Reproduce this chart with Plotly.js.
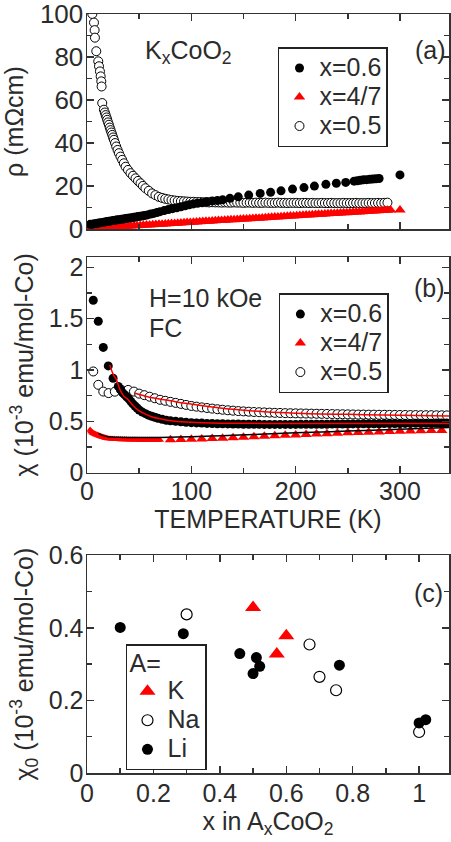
<!DOCTYPE html>
<html>
<head>
<meta charset="utf-8">
<script src="https://cdn.plot.ly/plotly-3.0.1.min.js"></script>
<style>html,body{margin:0;padding:0;background:#fff;}#chart{width:451px;height:842px;}</style>
</head>
<body>
<div id="chart"></div>
<script>
// ---------- Panel (a): resistivity of KxCoO2 ----------
const T_a_x06 = [3,5,7,9,11,13,15,17,19,21,23,25,27,29,31,33,35,37,39,41,43,45,47,49,51,53,55,58,61,64,67,70,74,78,82,86,90,94,98,102,106,110,115,120,125,130,137,145,155,166,176,186,197,208,218,229,239,248,256,259,262,265,268,271,274,277,280,300];
const rho_x06 = [2.2,2.3,2.5,2.6,2.8,3.0,3.1,3.3,3.5,3.6,3.8,4.0,4.1,4.3,4.4,4.6,4.7,4.9,5.0,5.2,5.3,5.5,5.6,5.8,6.0,6.1,6.3,6.6,7.0,7.3,7.7,8.1,8.6,9.1,9.5,9.9,10.4,10.8,11.3,11.7,12.0,12.3,12.7,13.1,13.3,13.6,14.3,15.0,15.8,16.6,17.1,17.8,18.6,19.3,20.0,20.8,21.3,21.7,22.3,22.5,22.7,22.9,23.0,23.2,23.3,23.4,23.5,25.2];

const T_a_x47 = [3,5,7,9,11,13,15,17,19,21,24,27,30,33,36,39,42,45,48,51,54,57,60,63,66,69,72,75,78,81,84,87,90,93,96,99,102,105,108,111,114,117,120,123,126,129,132,135,138,141,144,147,150,153,156,159,162,165,168,171,174,177,180,183,186,189,192,195,198,201,204,207,210,213,216,219,222,225,228,231,234,237,240,243,246,249,252,255,258,261,264,267,270,273,276,279,282,285,288,291,300];
const rho_x47 = [0.3,0.35,0.4,0.45,0.5,0.55,0.6,0.65,0.75,0.8,0.85,0.95,1.05,1.15,1.25,1.3,1.4,1.5,1.6,1.7,1.75,1.85,1.95,2.05,2.1,2.2,2.3,2.4,2.5,2.6,2.65,2.75,2.85,2.95,3.05,3.1,3.2,3.3,3.4,3.5,3.6,3.65,3.75,3.85,3.95,4.05,4.1,4.2,4.3,4.4,4.5,4.6,4.65,4.75,4.85,4.95,5.05,5.1,5.2,5.3,5.4,5.5,5.6,5.65,5.75,5.85,5.95,6.05,6.1,6.2,6.3,6.4,6.5,6.55,6.65,6.75,6.85,6.95,7.05,7.1,7.2,7.3,7.4,7.5,7.55,7.65,7.75,7.85,7.95,8.0,8.1,8.2,8.3,8.4,8.45,8.55,8.65,8.7,8.8,8.85,8.9];

const T_a_x05 = [5.1,6.7,7.3,7.6,8.9,10.8,11.5,12.4,13.1,13.7,14.0,14.6,16.2,17.1,17.9,18.7,19.4,20.2,21.0,21.8,22.6,23.4,24.2,25.0,25.8,26.9,28.0,29.3,30.6,32.1,33.7,35.3,37.0,39.3,41.7,44.1,46.5,48.9,51.3,53.6,56.0,59.2,62.4,65.6,68.8,72,75,78,81,84,87,90,93,96,99,102,105,108,111,
  114,117,120,123,126,129,132,135,138,141,144,147,150,153,156,159,162,165,168,171,174,177,180,183,186,189,192,195,198,201,204,207,210,213,216,219,222,225,228,231,234,237,240,243,246,249,252,255,258,261,264,267,270,273,276,279,282,285,288];
const rho_x05 = [100,96,92.5,89,82.7,78,75.7,73.3,71,68.7,66.3,58.6,55.5,54.2,53,51.9,50.8,49.6,48.5,47.2,46,44.9,43.8,42.6,41.5,40,38.4,36.8,35.3,33.7,32.2,30.6,29,27.5,26,24.8,23.6,22.4,21.3,20.1,19,17.8,16.6,15.8,15,14.5,14.1,13.8,13.5,13.3,13.1,13.0,12.9,12.8,12.7,12.7,12.6,12.6,12.5,
  12.5,12.4,12.5,12.4,12.4,12.3,12.4,12.3,12.3,12.4,12.3,12.3,12.2,12.3,12.3,12.2,12.3,12.2,12.2,12.3,12.2,12.2,12.2,12.3,12.2,12.2,12.1,12.2,12.2,12.2,12.1,12.2,12.2,12.1,12.2,12.1,12.1,12.2,12.1,12.1,12.2,12.1,12.1,12.1,12.2,12.1,12.1,12.1,12.2,12.1,12.1,12.1,12.2,12.1,12.1,12.2,12.1,12.2,12.3];

// ---------- Panel (b): susceptibility, H=10 kOe FC ----------
const T_b_x06 = [6,10.8,15.6,20.4,25,30,32,34,36,38,40,42,44,46,48,50,53,56,59,62,65,68,72,76,80,85,90,95,100,105,110,115,120,125,130,135,140,145,150,155,160,165,170,175,180,185,190,195,200,205,210,215,220,225,230,235,240,245,250,255,260,265,270,275,280,285,290,295,300,305,310,315,320,325,330,335,340,345];
const chi_x06 = [1.68,1.475,1.22,1.04,0.92,0.84,0.81,0.78,0.76,0.74,0.72,0.695,0.67,0.65,0.63,0.61,0.59,0.575,0.56,0.55,0.54,0.53,0.52,0.51,0.505,0.5,0.495,0.49,0.487,0.485,0.483,0.48,0.478,0.477,0.476,0.475,0.474,0.473,0.472,0.472,0.471,0.471,0.47,0.47,0.47,0.47,0.47,0.47,0.47,0.471,0.471,0.471,0.472,0.472,0.472,0.473,0.473,0.474,0.474,0.475,0.475,0.476,0.476,0.477,0.477,0.478,0.478,0.479,0.479,0.48,0.48,0.481,0.481,0.482,0.482,0.483,0.483,0.484];

const T_b_x47_low = [3,4,5,6,7,8,9,10,11,12,13,14,15,16,17,18,19,20,22,24,26,28,30,32,34,36,38,40,42,44,46,48,50,52,54,56,58,60,62,64,66,68,70];
const chi_x47_low = [0.416,0.40,0.392,0.385,0.38,0.375,0.37,0.366,0.362,0.358,0.354,0.35,0.347,0.344,0.341,0.338,0.336,0.334,0.331,0.329,0.327,0.326,0.325,0.324,0.323,0.322,0.322,0.321,0.321,0.32,0.32,0.32,0.319,0.319,0.319,0.318,0.318,0.318,0.318,0.318,0.318,0.318,0.318];
const T_b_x47_high = [80,90,100,110,120,130,140,150,160,170,180,190,200,210,220,230,240,250,260,270,280,290,300,310,320,330,340];
const chi_x47_high = [0.320,0.322,0.325,0.328,0.332,0.336,0.340,0.345,0.350,0.355,0.360,0.364,0.368,0.372,0.376,0.380,0.384,0.388,0.391,0.394,0.397,0.400,0.403,0.406,0.408,0.410,0.412];

const T_b_x05 = [6,10.8,15.6,20.7,26.7,33,39.5,45,50,55,60,65,70,75,80,85,90,95,100,105,110,115,120,125,130,135,140,145,150,155,160,165,170,175,180,185,190,195,200,205,210,215,220,225,230,235,240,245,250,255,260,265,270,275,280,285,290,295,300,305,310,315,320,325,330,335,340,345];
const chi_x05 = [0.986,0.856,0.79,0.775,0.789,0.806,0.806,0.79,0.77,0.755,0.74,0.725,0.71,0.70,0.69,0.68,0.67,0.66,0.65,0.643,0.636,0.63,0.624,0.618,0.613,0.608,0.604,0.60,0.597,0.594,0.591,0.589,0.587,0.585,0.583,0.582,0.58,0.579,0.578,0.577,0.576,0.575,0.574,0.573,0.572,0.571,0.57,0.569,0.568,0.567,0.566,0.566,0.565,0.565,0.564,0.564,0.563,0.563,0.562,0.562,0.561,0.561,0.56,0.56,0.56,0.559,0.559,0.558];

// fit curves
const T_fit_x06 = [21.9,25,28.4,32,35,39.5,44,49,55,61.8,70,81,100,130,170,220,260,300,347];
const chi_fit_x06 = [1.05,0.96,0.90,0.80,0.75,0.71,0.655,0.61,0.575,0.545,0.525,0.506,0.49,0.482,0.48,0.479,0.479,0.48,0.48];
const T_fit_x05 = [46,60,80,94,120,140,170,200,250,300,347];
const chi_fit_x05 = [0.773,0.735,0.70,0.676,0.64,0.617,0.594,0.58,0.568,0.56,0.553];
const T_fit_x47 = [11,14,17,20,25,30,40,60,80,100,130,160,200,250,300,347];
const chi_fit_x47 = [0.383,0.366,0.356,0.35,0.346,0.344,0.343,0.343,0.345,0.35,0.36,0.372,0.388,0.405,0.422,0.44];

// ---------- Panel (c): chi0 vs x in AxCoO2 ----------
const x_K = [0.5, 4/7, 0.6];
const chi0_K = [0.456, 0.328, 0.378];
const x_Na = [0.3, 0.67, 0.7, 0.75, 1.0];
const chi0_Na = [0.437, 0.354, 0.265, 0.228, 0.113];
const x_Li = [0.1, 0.29, 0.46, 0.5, 0.51, 0.52, 0.76, 1.0, 1.02];
const chi0_Li = [0.401, 0.384, 0.329, 0.274, 0.318, 0.294, 0.297, 0.138, 0.147];

const seriesNames = ['x=0.6', 'x=4/7', 'x=0.5'];
const alkaliNames = ['K', 'Na', 'Li'];

const FONT = 'Liberation Sans, Arial, Helvetica, sans-serif';
const TXT = '#2b2b2b';
const AX = '#333333';
const big = s => '<span style="font-size:25px">' + s + '</span>';

const openCircle = sz => ({symbol:'circle', size:sz, color:'#ffffff', line:{color:'#000000', width:1}});
const filledCircle = sz => ({symbol:'circle', size:sz, color:'#000000'});
const redTri = sz => ({symbol:'triangle-up', size:sz, color:'#ff0000'});

const traces = [
  // (a)
  {x:T_a_x05, y:rho_x05, xaxis:'x', yaxis:'y', mode:'markers', name:big(seriesNames[2]), marker:openCircle(9), legend:'legend', legendrank:3},
  {x:T_a_x47, y:rho_x47, xaxis:'x', yaxis:'y', mode:'markers', name:big(seriesNames[1]), marker:redTri(10), legend:'legend', legendrank:2},
  {x:T_a_x06, y:rho_x06, xaxis:'x', yaxis:'y', mode:'markers', name:big(seriesNames[0]), marker:filledCircle(9), legend:'legend', legendrank:1},
  // (b)
  {x:T_b_x05, y:chi_x05, xaxis:'x2', yaxis:'y2', mode:'markers', name:big(seriesNames[2]), marker:openCircle(9), legend:'legend2', legendrank:3},
  {x:T_b_x47_low, y:chi_x47_low, xaxis:'x2', yaxis:'y2', mode:'markers', name:big(seriesNames[1]), marker:redTri(7), legend:'legend2', legendgroup:'b47', showlegend:false},
  {x:T_b_x47_high, y:chi_x47_high, xaxis:'x2', yaxis:'y2', mode:'markers', name:big(seriesNames[1]), marker:redTri(10), legend:'legend2', legendgroup:'b47', legendrank:2},
  {x:T_b_x06, y:chi_x06, xaxis:'x2', yaxis:'y2', mode:'markers', name:big(seriesNames[0]), marker:filledCircle(9), legend:'legend2', legendrank:1},
  {x:T_fit_x05, y:chi_fit_x05, xaxis:'x2', yaxis:'y2', mode:'lines', line:{color:'#ff0000', width:1.5, shape:'spline'}, showlegend:false, hoverinfo:'skip'},
  {x:T_fit_x06, y:chi_fit_x06, xaxis:'x2', yaxis:'y2', mode:'lines', line:{color:'#ff0000', width:1.5, shape:'spline'}, showlegend:false, hoverinfo:'skip'},
  {x:T_fit_x47, y:chi_fit_x47, xaxis:'x2', yaxis:'y2', mode:'lines', line:{color:'#000000', width:1.5, shape:'spline'}, showlegend:false, hoverinfo:'skip'},
  // (c)
  {x:x_K, y:chi0_K, xaxis:'x3', yaxis:'y3', mode:'markers', name:big(alkaliNames[0]), marker:redTri(14), legend:'legend3', legendrank:1},
  {x:x_Na, y:chi0_Na, xaxis:'x3', yaxis:'y3', mode:'markers', name:big(alkaliNames[1]), marker:{symbol:'circle', size:11, color:'#ffffff', line:{color:'#000000', width:1.2}}, legend:'legend3', legendrank:2},
  {x:x_Li, y:chi0_Li, xaxis:'x3', yaxis:'y3', mode:'markers', name:big(alkaliNames[2]), marker:filledCircle(11), legend:'legend3', legendrank:3}
];

const axBase = {
  showline:true, linecolor:AX, linewidth:1.5, mirror:'allticks',
  ticks:'inside', ticklen:7, tickwidth:1.5, tickcolor:AX,
  showgrid:false, zeroline:false, ticklabeloverflow:'allow',
  tickfont:{family:FONT, size:25, color:TXT}
};
const minorT = d => ({dtick:d, ticks:'inside', ticklen:5, tickwidth:1.5, tickcolor:AX, showgrid:false});
const legBase = {
  bgcolor:'#ffffff', bordercolor:'#222222', borderwidth:1.5,
  font:{family:FONT, size:20, color:TXT}, xanchor:'left', yanchor:'top',
  itemwidth:30, tracegroupgap:0
};

const layout = {
  width:451, height:842,
  margin:{l:87, r:2, t:14, b:69},
  paper_bgcolor:'#ffffff', plot_bgcolor:'#ffffff',
  font:{family:FONT, color:TXT},
  showlegend:true,
  xaxis:Object.assign({}, axBase, {anchor:'y', domain:[0,1], range:[0,347], tickmode:'linear', tick0:0, dtick:100, showticklabels:false, minor:minorT(50)}),
  yaxis:Object.assign({}, axBase, {anchor:'x', domain:[0.7166,1], range:[0,100], tickmode:'linear', tick0:0, dtick:20, minor:minorT(10), ticklabelstandoff:-3, tickfont:{family:FONT, size:26, color:TXT},
    title:{text:'ρ (mΩcm)', font:{family:FONT, size:25, color:TXT}, standoff:9}}),
  xaxis2:Object.assign({}, axBase, {anchor:'y2', domain:[0,1], range:[0,347], tickmode:'linear', tick0:0, dtick:100, minor:minorT(50), ticklabelstandoff:-4,
    title:{text:'TEMPERATURE (K)', font:{family:FONT, size:25, color:TXT}, standoff:6}}),
  yaxis2:Object.assign({}, axBase, {anchor:'x2', domain:[0.3957,0.6797], range:[0,2.1], tickmode:'linear', tick0:0, dtick:0.5, minor:minorT(0.25), ticklabelstandoff:-3,
    title:{text:'χ (10<sup>-3</sup> emu/mol-Co)', font:{family:FONT, size:25, color:TXT}, standoff:8}}),
  xaxis3:Object.assign({}, axBase, {anchor:'y3', domain:[0,1], range:[0,1.09], tickmode:'linear', tick0:0, dtick:0.2, minor:minorT(0.1), ticklabelstandoff:-3,
    title:{text:'x in A<sub>x</sub>CoO<sub>2</sub>', font:{family:FONT, size:25, color:TXT}, standoff:0}}),
  yaxis3:Object.assign({}, axBase, {anchor:'x3', domain:[0,0.2869], range:[0,0.6], tickmode:'linear', tick0:0, dtick:0.2, minor:minorT(0.1), ticklabelstandoff:-3,
    title:{text:'χ<sub>0</sub> (10<sup>-3</sup> emu/mol-Co)', font:{family:FONT, size:25, color:TXT}, standoff:8}}),
  legend:Object.assign({}, legBase, {x:0.5276, y:0.9565}),
  legend2:Object.assign({}, legBase, {x:0.530, y:0.6323}),
  legend3:Object.assign({}, legBase, {x:0.1077, y:0.1696, title:{text:big('A='), font:{family:FONT, size:20, color:TXT}}}),
  annotations:[
    {xref:'paper', yref:'paper', x:0.1547, y:0.950, xanchor:'left', yanchor:'middle', showarrow:false, text:'K<sub>x</sub>CoO<sub>2</sub>', font:{family:FONT, size:25, color:TXT}},
    {xref:'paper', yref:'paper', x:0.9006, y:0.9526, xanchor:'left', yanchor:'middle', showarrow:false, text:'(a)', font:{family:FONT, size:25, color:TXT}},
    {xref:'paper', yref:'paper', x:0.1657, y:0.6256, xanchor:'left', yanchor:'middle', showarrow:false, text:'H=10 kOe', font:{family:FONT, size:25, color:TXT}},
    {xref:'paper', yref:'paper', x:0.1657, y:0.5861, xanchor:'left', yanchor:'middle', showarrow:false, text:'FC', font:{family:FONT, size:25, color:TXT}},
    {xref:'paper', yref:'paper', x:0.8978, y:0.6389, xanchor:'left', yanchor:'middle', showarrow:false, text:'(b)', font:{family:FONT, size:25, color:TXT}},
    {xref:'paper', yref:'paper', x:0.8978, y:0.2369, xanchor:'left', yanchor:'middle', showarrow:false, text:'(c)', font:{family:FONT, size:25, color:TXT}}
  ]
};

Plotly.newPlot('chart', traces, layout, {staticPlot:true, displayModeBar:false});
</script>
</body>
</html>
